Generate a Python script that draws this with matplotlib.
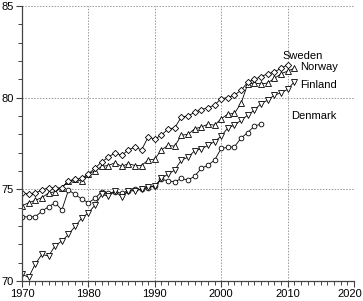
import numpy as np
import matplotlib
matplotlib.use("Agg")
import matplotlib.pyplot as plt
import matplotlib.transforms as mtransforms
from matplotlib.ticker import MultipleLocator

plt.rcParams['font.family'] = ['Liberation Sans', 'DejaVu Sans']

# life expectancy
years_sweden = list(range(1970, 2011))
sweden = [74.8, 74.75, 74.8, 74.95, 75.1, 75.05, 75.1, 75.45, 75.55, 75.6,
          75.85, 76.15, 76.5, 76.75, 77.0, 76.85, 77.15, 77.3, 77.15, 77.85,
          77.75, 77.95, 78.3, 78.35, 78.95, 79.0, 79.2, 79.35, 79.45, 79.6,
          79.95, 80.0, 80.15, 80.4, 80.85, 81.0, 81.15, 81.3, 81.4, 81.6,
          81.8]

years_norway = list(range(1970, 2012))
norway = [74.1, 74.27, 74.4, 74.55, 74.8, 74.87, 75.1, 75.45, 75.55, 75.45,
          75.85, 76.0, 76.25, 76.3, 76.45, 76.25, 76.4, 76.3, 76.3, 76.6,
          76.65, 77.15, 77.4, 77.35, 77.95, 78.0, 78.3, 78.4, 78.55, 78.5,
          78.85, 79.1, 79.15, 79.7, 80.75, 80.8, 80.75, 80.8, 81.05, 81.3,
          81.45, 81.6]

years_finland = list(range(1970, 2012))
finland = [70.37, 70.2, 70.93, 71.45, 71.36, 71.93, 72.18, 72.54, 72.98, 73.43,
           73.72, 74.14, 74.72, 74.63, 74.89, 74.6, 74.92, 74.92, 75.0, 75.14,
           75.18, 75.6, 75.83, 76.05, 76.6, 76.75, 77.1, 77.2, 77.4, 77.6,
           77.9, 78.35, 78.5, 78.77, 79.05, 79.32, 79.68, 79.86, 80.14, 80.26,
           80.45, 80.86]

years_denmark = list(range(1970, 2007))
denmark = [73.5, 73.5, 73.5, 73.81, 74.05, 74.27, 73.87, 74.96, 74.72, 74.47,
           74.27, 74.51, 74.87, 74.78, 74.87, 74.78, 74.92, 75.0, 75.0, 75.1,
           75.18, 75.54, 75.47, 75.4, 75.6, 75.5, 75.72, 76.14, 76.32, 76.59,
           77.23, 77.29, 77.32, 77.8, 78.1, 78.45, 78.56]

fig = plt.figure(figsize=(3.63, 3.01), dpi=100)
ax = fig.add_axes([22/363, 20/301, 332/363, 275/301])

style = dict(color='black', linewidth=0.6, markerfacecolor='white',
             markeredgecolor='black', markeredgewidth=0.6)
ax.plot(years_denmark, denmark, marker='o', markersize=3.4, **style)
ax.plot(years_finland, finland, marker='v', markersize=4.0, **style)
ax.plot(years_norway, norway, marker='^', markersize=4.0, **style)
ax.plot(years_sweden, sweden, marker='D', markersize=3.2, **style)

ax.text(2009.2, 82.3, 'Sweden', fontsize=8, ha='left', va='center')
ax.text(2011.9, 81.7, 'Norway', fontsize=8, ha='left', va='center')
ax.text(2011.9, 80.7, 'Finland', fontsize=8, ha='left', va='center')
ax.text(2010.6, 79.0, 'Denmark', fontsize=8, ha='left', va='center')

ax.set_xlim(1970, 2020)
ax.set_ylim(70, 85)
ax.xaxis.set_major_locator(MultipleLocator(10))
ax.xaxis.set_minor_locator(MultipleLocator(1))
ax.yaxis.set_major_locator(MultipleLocator(5))
ax.yaxis.set_minor_locator(MultipleLocator(1))

for sp in ['top', 'right']:
    ax.spines[sp].set_visible(False)
for sp in ['left', 'bottom']:
    ax.spines[sp].set_color('#444444')
    ax.spines[sp].set_linewidth(0.9)

ax.tick_params(which='major', length=4.5, width=0.8, color='#444444',
               labelsize=8, pad=1.5)
ax.tick_params(which='minor', length=3, width=0.7, color='#444444')

for x in [1980, 1990, 2000, 2010, 2020]:
    ax.axvline(x, color='#999999', linestyle=(0, (1.5, 1.5)), linewidth=0.7, zorder=0)
for y in [75, 80, 85]:
    ax.axhline(y, color='#999999', linestyle=(0, (1.5, 1.5)), linewidth=0.7, zorder=0)

# keep the last year label inside the figure
fig.canvas.draw()
shift = mtransforms.ScaledTranslation(-4/100, 0, fig.dpi_scale_trans)
for lab in ax.get_xticklabels():
    if lab.get_text() == '2020':
        lab.set_transform(lab.get_transform() + shift)

fig.savefig('out.png', dpi=100)
